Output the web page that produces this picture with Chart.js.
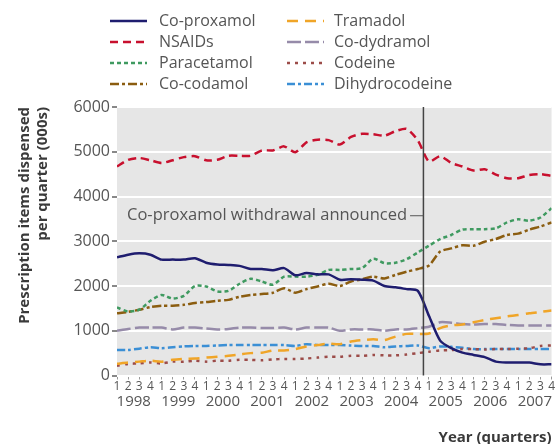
<!DOCTYPE html>
<html>
<head>
<meta charset="utf-8">
<script src="https://cdn.jsdelivr.net/npm/chart.js@4/dist/chart.umd.min.js"></script>
<style>
  html, body { margin: 0; padding: 0; background: #fff; }
  #wrap { width: 555px; height: 444px; position: relative; }
</style>
</head>
<body>
<div id="wrap"><canvas id="painChart" width="555" height="444"></canvas></div>
<script>
// ---- data (prescription items per quarter, 000s) ----
const years = ['1998', '1999', '2000', '2001', '2002', '2003', '2004', '2005', '2006', '2007'];
const quarterLabels = ['1', '2', '3', '4'];
const yTicks = [0, 1000, 2000, 3000, 4000, 5000, 6000];

const coProxamol = [2640, 2700, 2730, 2700, 2590, 2590, 2590, 2620, 2520, 2480,
  2470, 2450, 2380, 2380, 2350, 2400, 2240, 2290, 2260, 2260,
  2140, 2150, 2140, 2120, 2000, 1970, 1930, 1890, 1330, 780,
  610, 510, 460, 410, 310, 290, 290, 290, 250, 250];
const nsaids = [4670, 4820, 4860, 4810, 4750, 4810, 4880, 4900, 4810, 4820,
  4910, 4910, 4910, 5030, 5030, 5120, 4990, 5210, 5270, 5260,
  5160, 5330, 5400, 5390, 5360, 5460, 5510, 5250, 4780, 4900,
  4750, 4670, 4580, 4610, 4490, 4410, 4410, 4480, 4500, 4460];
const paracetamol = [1520, 1430, 1470, 1670, 1800, 1720, 1780, 2000, 1990, 1880,
  1890, 2050, 2160, 2100, 2030, 2210, 2210, 2210, 2250, 2360,
  2360, 2380, 2400, 2610, 2510, 2520, 2600, 2750, 2900, 3050,
  3140, 3260, 3270, 3270, 3290, 3420, 3490, 3460, 3530, 3740];
const coCodamol = [1390, 1420, 1470, 1530, 1560, 1560, 1580, 1620, 1640, 1670,
  1690, 1760, 1800, 1820, 1850, 1950, 1850, 1930, 1990, 2050,
  2000, 2100, 2150, 2210, 2170, 2250, 2320, 2380, 2460, 2770,
  2840, 2910, 2900, 2990, 3050, 3140, 3170, 3260, 3330, 3420];
const tramadol = [260, 290, 310, 330, 310, 350, 370, 380, 400, 420,
  440, 470, 500, 510, 560, 560, 590, 650, 680, 710,
  700, 760, 790, 810, 790, 870, 930, 930, 940, 1060,
  1120, 1140, 1190, 1240, 1280, 1320, 1350, 1390, 1420, 1450];
const coDydramol = [1000, 1040, 1070, 1070, 1070, 1030, 1070, 1070, 1050, 1030,
  1040, 1070, 1070, 1060, 1060, 1070, 1030, 1070, 1070, 1070,
  1000, 1030, 1030, 1030, 1000, 1030, 1030, 1060, 1090, 1190,
  1180, 1150, 1140, 1150, 1150, 1130, 1120, 1120, 1120, 1120];
const codeine = [220, 260, 270, 290, 270, 310, 310, 330, 310, 330,
  330, 350, 350, 340, 360, 370, 370, 380, 400, 420,
  420, 440, 440, 460, 450, 450, 470, 500, 530, 560,
  570, 590, 590, 580, 590, 590, 600, 610, 660, 670];
const dihydrocodeine = [570, 570, 600, 630, 610, 630, 650, 660, 660, 670,
  680, 680, 680, 680, 680, 680, 660, 700, 680, 680,
  680, 670, 660, 660, 630, 650, 660, 670, 610, 650,
  640, 620, 590, 590, 590, 590, 590, 590, 590, 590];

// withdrawal announced between Q4 2004 and Q1 2005 (quarter index)
const announceAt = 27.5;
const announceText = 'Co-proxamol withdrawal announced';

const series = [
  { label: 'Co-proxamol', data: coProxamol, color: '#1f1d6f', dash: [] },
  { label: 'NSAIDs', data: nsaids, color: '#c8102e', dash: [8, 5] },
  { label: 'Paracetamol', data: paracetamol, color: '#3f9a60', dash: [4, 3] },
  { label: 'Co-codamol', data: coCodamol, color: '#8b5d10', dash: [9, 3, 3, 3] },
  { label: 'Tramadol', data: tramadol, color: '#f0a528', dash: [11, 7] },
  { label: 'Co-dydramol', data: coDydramol, color: '#968ba9', dash: [14, 4] },
  { label: 'Codeine', data: codeine, color: '#9c4c49', dash: [3, 5] },
  { label: 'Dihydrocodeine', data: dihydrocodeine, color: '#3b8fd5', dash: [8, 3, 3, 3] }
];

const FONT = '"Open Sans", "Noto Sans", sans-serif';
const TEXT = '#555555';

// grey plot background
const plotBg = {
  id: 'plotBg',
  beforeDraw(chart) {
    const { ctx, chartArea: a } = chart;
    ctx.save();
    ctx.fillStyle = '#e6e6e6';
    ctx.fillRect(a.left, a.top, a.right - a.left, a.bottom - a.top);
    ctx.restore();
  }
};

// vertical marker + label
const announceLine = {
  id: 'announceLine',
  afterDatasetsDraw(chart) {
    const { ctx, chartArea: a, scales } = chart;
    const x = scales.x.getPixelForValue(announceAt);
    const y = scales.y.getPixelForValue(3570);
    ctx.save();
    ctx.strokeStyle = '#444';
    ctx.lineWidth = 1.5;
    ctx.beginPath();
    ctx.moveTo(x, a.top);
    ctx.lineTo(x, a.bottom);
    ctx.stroke();
    ctx.font = '16.5px ' + FONT;
    ctx.fillStyle = TEXT;
    ctx.textBaseline = 'middle';
    ctx.fillText(announceText, a.left + 10, y);
    const tw = ctx.measureText(announceText).width;
    ctx.lineWidth = 1;
    ctx.strokeStyle = '#555';
    ctx.beginPath();
    ctx.moveTo(a.left + 10 + tw + 3, y);
    ctx.lineTo(x, y);
    ctx.stroke();
    ctx.restore();
  }
};

// two-column legend at the top
const twoColLegend = {
  id: 'twoColLegend',
  afterDraw(chart) {
    const { ctx } = chart;
    const cols = [{ x: 110, tx: 159 }, { x: 287, tx: 334 }];
    ctx.save();
    ctx.font = '16px ' + FONT;
    ctx.textBaseline = 'middle';
    chart.data.datasets.forEach((ds, i) => {
      const col = cols[Math.floor(i / 4)];
      const y = 21 + (i % 4) * 21;
      ctx.strokeStyle = ds.borderColor;
      ctx.lineWidth = 2.5;
      ctx.setLineDash(ds.borderDash || []);
      ctx.beginPath();
      ctx.moveTo(col.x, y);
      ctx.lineTo(col.x + 37, y);
      ctx.stroke();
      ctx.setLineDash([]);
      ctx.fillStyle = TEXT;
      ctx.fillText(ds.label, col.tx, y);
    });
    ctx.restore();
  }
};

new Chart(document.getElementById('painChart').getContext('2d'), {
  type: 'line',
  data: {
    datasets: series.map(s => ({
      label: s.label,
      data: s.data.map((v, i) => ({ x: i, y: v })),
      borderColor: s.color,
      backgroundColor: s.color,
      borderDash: s.dash,
      borderWidth: 2.5,
      pointRadius: 0,
      tension: 0.25,
      fill: false
    }))
  },
  options: {
    responsive: false,
    animation: false,
    layout: { padding: { top: 107, right: 2, left: 0, bottom: 0 } },
    plugins: {
      legend: { display: false },
      tooltip: { enabled: false }
    },
    scales: {
      x: {
        type: 'linear',
        position: 'bottom',
        weight: 1,
        min: 0,
        max: years.length * 4 - 1,
        afterBuildTicks: scale => {
          scale.ticks = years.flatMap((y, k) => quarterLabels.map((q, j) => ({ value: k * 4 + j })));
        },
        afterFit: scale => { scale.height = 20; },
        grid: { drawOnChartArea: false, tickLength: 4, tickColor: '#999', lineWidth: 1 },
        border: { display: false },
        ticks: {
          autoSkip: false,
          maxRotation: 0,
          minRotation: 0,
          padding: 0,
          color: TEXT,
          font: { family: FONT, size: 12 },
          callback: v => quarterLabels[v % 4]
        }
      },
      x2: {
        type: 'linear',
        position: 'bottom',
        weight: 2,
        min: 0,
        max: years.length * 4 - 1,
        afterBuildTicks: scale => {
          scale.ticks = years.map((y, k) => ({ value: k * 4 + 1.5 }));
        },
        afterFit: scale => { scale.height = 48.5; },
        grid: { display: false, drawTicks: false, tickLength: 0 },
        border: { display: false },
        ticks: {
          autoSkip: false,
          maxRotation: 0,
          minRotation: 0,
          padding: -3,
          color: TEXT,
          font: { family: FONT, size: 15 },
          callback: (v, i) => years[i]
        },
        title: {
          display: true,
          text: 'Year (quarters)',
          align: 'end',
          color: '#3a3a3a',
          padding: { top: 0, bottom: -3 },
          font: { family: FONT, size: 15, weight: 'bold' }
        }
      },
      y: {
        min: 0,
        max: 6000,
        afterBuildTicks: scale => {
          scale.ticks = yTicks.map(v => ({ value: v }));
        },
        afterFit: scale => { scale.width = 117; },
        grid: { color: '#ffffff', lineWidth: 2, tickColor: '#888', tickLength: 5 },
        border: { display: false },
        ticks: {
          padding: 2,
          color: TEXT,
          font: { family: FONT, size: 16 },
          callback: v => String(v)
        },
        title: {
          display: true,
          text: ['Prescription items dispensed', 'per quarter (000s)'],
          align: 'end',
          color: '#3a3a3a',
          padding: { top: 16, bottom: 0 },
          font: { family: FONT, size: 15, weight: 'bold', lineHeight: 1.2 }
        }
      }
    }
  },
  plugins: [plotBg, announceLine, twoColLegend]
});
</script>
</body>
</html>
